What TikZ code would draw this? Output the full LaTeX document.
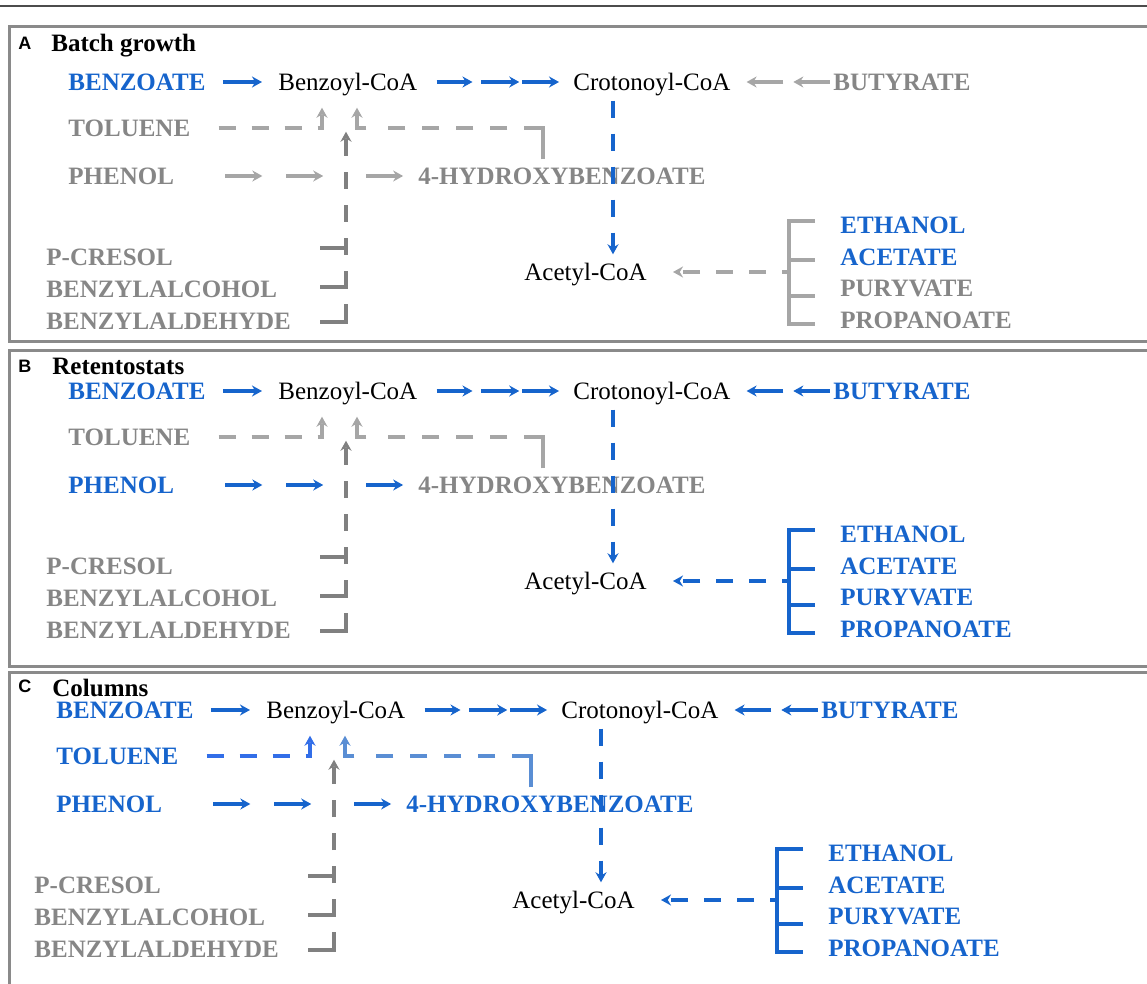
\documentclass[tikz,border=0pt]{standalone}
\usepackage{fontspec}
\setmainfont{Liberation Serif}
\newfontfamily\panelfont{Liberation Sans}
\usetikzlibrary{arrows.meta,calc}

\definecolor{pathblue}{RGB}{22,100,204}
\definecolor{labelgray}{RGB}{134,134,134}
\definecolor{linegray}{RGB}{166,166,166}
\definecolor{spinegray}{RGB}{128,128,128}
\definecolor{framegray}{RGB}{138,138,138}
\definecolor{tolblue}{RGB}{50,110,232}
\definecolor{hydblue}{RGB}{90,142,212}

\tikzset{
  cmpd/.style={anchor=west, inner sep=0pt, text height=8.3pt, text depth=0pt,
    font=\fontsize{12.5}{14}\selectfont},
  substrate/.style={cmpd, font=\fontsize{12.5}{14}\selectfont\bfseries},
  flow/.style={line width=1.7pt, -{Stealth[length=5pt,width=5.5pt]}},
  dashflow/.style={flow, line width=2pt, dash pattern=on 8.5pt off 8pt},
  stub/.style={line width=1.8pt, spinegray},
  bracketline/.style={line width=2pt},
  frame/.style={line width=1.5pt, framegray},
  panellabel/.style={anchor=west, inner sep=0pt, text height=6.5pt, text depth=0pt,
    font=\panelfont\bfseries\fontsize{9}{10}\selectfont},
  paneltitle/.style={substrate}
}

% one panel of the degradation scheme, #1 = suffix for names
\newcommand{\pathway}[1]{%
  % compounds
  \node[substrate, pathblue] (benzoate#1) at (68,82) {BENZOATE};
  \node[cmpd] (benzoyl#1) at (278,82) {Benzoyl-CoA};
  \node[cmpd] (crot#1) at (573,82) {Crotonoyl-CoA};
  \node[substrate, buttext] (butyrate#1) at (833,82) {BUTYRATE};
  \node[substrate, toltext] (toluene#1) at (68,128) {TOLUENE};
  \node[substrate, phentext] (phenol#1) at (68,176) {PHENOL};
  \node[substrate, hydtext] (hydroxy#1) at (418,176) {4-HYDROXYBENZOATE};
  \node[substrate, labelgray] (cresol#1) at (46,257) {P-CRESOL};
  \node[substrate, labelgray] (alcohol#1) at (46,289) {BENZYLALCOHOL};
  \node[substrate, labelgray] (aldehyde#1) at (46,321) {BENZYLALDEHYDE};
  \node[cmpd] (acetyl#1) at (524,272) {Acetyl-CoA};
  \node[substrate, pathblue] (ethanol#1) at (840,225) {ETHANOL};
  \node[substrate, pathblue] (acetate#1) at (840,257) {ACETATE};
  \node[substrate, buttext] (puryvate#1) at (840,288) {PURYVATE};
  \node[substrate, buttext] (propanoate#1) at (840,320) {PROPANOATE};
  % junctions under Benzoyl-CoA
  \coordinate (tolin#1) at ($(benzoyl#1.south west)+(44,17)$);
  \coordinate (hydin#1) at ($(benzoyl#1.south west)+(79,17)$);
  \coordinate (junction#1) at ($(benzoyl#1.south west)+(68,41)$);
  \coordinate (hydout#1) at ($(hydroxy#1.north west)+(125,-8)$);
  \coordinate (crotdown#1) at ($(crot#1.south west)+(40,10)$);
  \coordinate (brk#1) at ($(acetate#1.west)+(-51,15)$);
  % main route
  \draw[flow, pathblue, shorten <=8.5pt, shorten >=8pt] (benzoate#1) -- (benzoyl#1);
  \draw[flow, pathblue] ($(benzoyl#1.east)!0.122!(crot#1.west)$) -- ($(benzoyl#1.east)!0.353!(crot#1.west)$);
  \draw[flow, pathblue] ($(benzoyl#1.east)!0.41!(crot#1.west)$) -- ($(benzoyl#1.east)!0.654!(crot#1.west)$);
  \draw[flow, pathblue] ($(benzoyl#1.east)!0.673!(crot#1.west)$) -- ($(benzoyl#1.east)!0.91!(crot#1.west)$);
  \draw[dashflow, pathblue, shorten >=4.5pt] (crotdown#1) -- (crotdown#1 |- acetyl#1.north);
  % butyrate
  \draw[flow, butline] ($(crot#1.east)!0.515!(butyrate#1.west)$) -- ($(crot#1.east)!0.155!(butyrate#1.west)$);
  \draw[flow, butline] ($(crot#1.east)!0.97!(butyrate#1.west)$) -- ($(crot#1.east)!0.612!(butyrate#1.west)$);
  % phenol
  \draw[flow, phenline] ($(phenol#1.east)!0.209!(hydroxy#1.west)$) -- ($(phenol#1.east)!0.361!(hydroxy#1.west)$);
  \draw[flow, phenline] ($(phenol#1.east)!0.459!(hydroxy#1.west)$) -- ($(phenol#1.east)!0.611!(hydroxy#1.west)$);
  \draw[flow, phenline] ($(phenol#1.east)!0.787!(hydroxy#1.west)$) -- ($(phenol#1.east)!0.939!(hydroxy#1.west)$);
  % toluene and 4-hydroxybenzoate
  \draw[dashflow, tolline] ($(toluene#1.east)+(28,0)$) -| (tolin#1);
  \draw[dashflow, hydline, dash pattern=on 25pt off 8.5pt on 8.5pt off 8.5pt on 8.5pt off 8.5pt on 8.5pt off 8.5pt on 8.5pt off 11pt on 20pt]
    (hydout#1) |- (hydin#1 |- toluene#1) -- (hydin#1);
  % cresol, alcohol, aldehyde
  \draw[stub] ($(cresol#1.east -| junction#1)+(-26,-9)$) -- ++(26,0);
  \draw[stub] ($(alcohol#1.east -| junction#1)+(-26,-2)$) -- ++(26,0) -- ++(0,-15);
  \draw[stub] ($(aldehyde#1.east -| junction#1)+(-26,1)$) -- ++(26,0) -- ++(0,-17);
  \draw[dashflow, spinegray] (aldehyde#1.east -| junction#1) -- (junction#1);
  % C2/C3 substrates
  \draw[bracketline, butline] ($(ethanol#1.west)+(-25,-4)$) -| ($(propanoate#1.west)+(-51,4)$) -- ++(26,0);
  \draw[bracketline, butline] ($(acetate#1.west)+(-51,3)$) -- ++(26,0);
  \draw[bracketline, butline] ($(puryvate#1.west)+(-51,8)$) -- ++(26,0);
  \draw[dashflow, butline, dash phase=5pt, shorten >=13pt] (brk#1) -- (acetyl#1);
}

\begin{document}
\begin{tikzpicture}[x=0.5pt, y=-0.5pt]
  \useasboundingbox (0,0) rectangle (1147,984);
  \clip (0,0) rectangle (1147,984);
  % top rule
  \draw[line width=0.9pt, black!70] (0,6) -- (1147,6);

  % A: batch growth
  \draw[frame] (9,27) rectangle (1170,342);
  \node[panellabel] (labelA) at (18,43) {A};
  \node[paneltitle] (titleA) at (51,43) {Batch growth};
  \begin{scope}
    \colorlet{toltext}{labelgray}\colorlet{tolline}{linegray}
    \colorlet{phentext}{labelgray}\colorlet{phenline}{linegray}
    \colorlet{hydtext}{labelgray}\colorlet{hydline}{linegray}
    \colorlet{buttext}{labelgray}\colorlet{butline}{linegray}
    \pathway{a}
  \end{scope}

  % B: retentostats
  \draw[frame] (9,351) rectangle (1170,666);
  \node[panellabel] (labelB) at (18,366) {B};
  \node[paneltitle] (titleB) at (52,366) {Retentostats};
  \begin{scope}[shift={(0,309)}]
    \colorlet{toltext}{labelgray}\colorlet{tolline}{linegray}
    \colorlet{phentext}{pathblue}\colorlet{phenline}{pathblue}
    \colorlet{hydtext}{labelgray}\colorlet{hydline}{linegray}
    \colorlet{buttext}{pathblue}\colorlet{butline}{pathblue}
    \pathway{b}
  \end{scope}

  % C: columns
  \draw[frame] (9,672) rectangle (1170,1000);
  \node[panellabel] (labelC) at (18,686) {C};
  \node[paneltitle] (titleC) at (52,688) {Columns};
  \begin{scope}[shift={(-12,628)}]
    \colorlet{toltext}{pathblue}\colorlet{tolline}{tolblue}
    \colorlet{phentext}{pathblue}\colorlet{phenline}{pathblue}
    \colorlet{hydtext}{pathblue}\colorlet{hydline}{hydblue}
    \colorlet{buttext}{pathblue}\colorlet{butline}{pathblue}
    \pathway{c}
  \end{scope}
\end{tikzpicture}
\end{document}
